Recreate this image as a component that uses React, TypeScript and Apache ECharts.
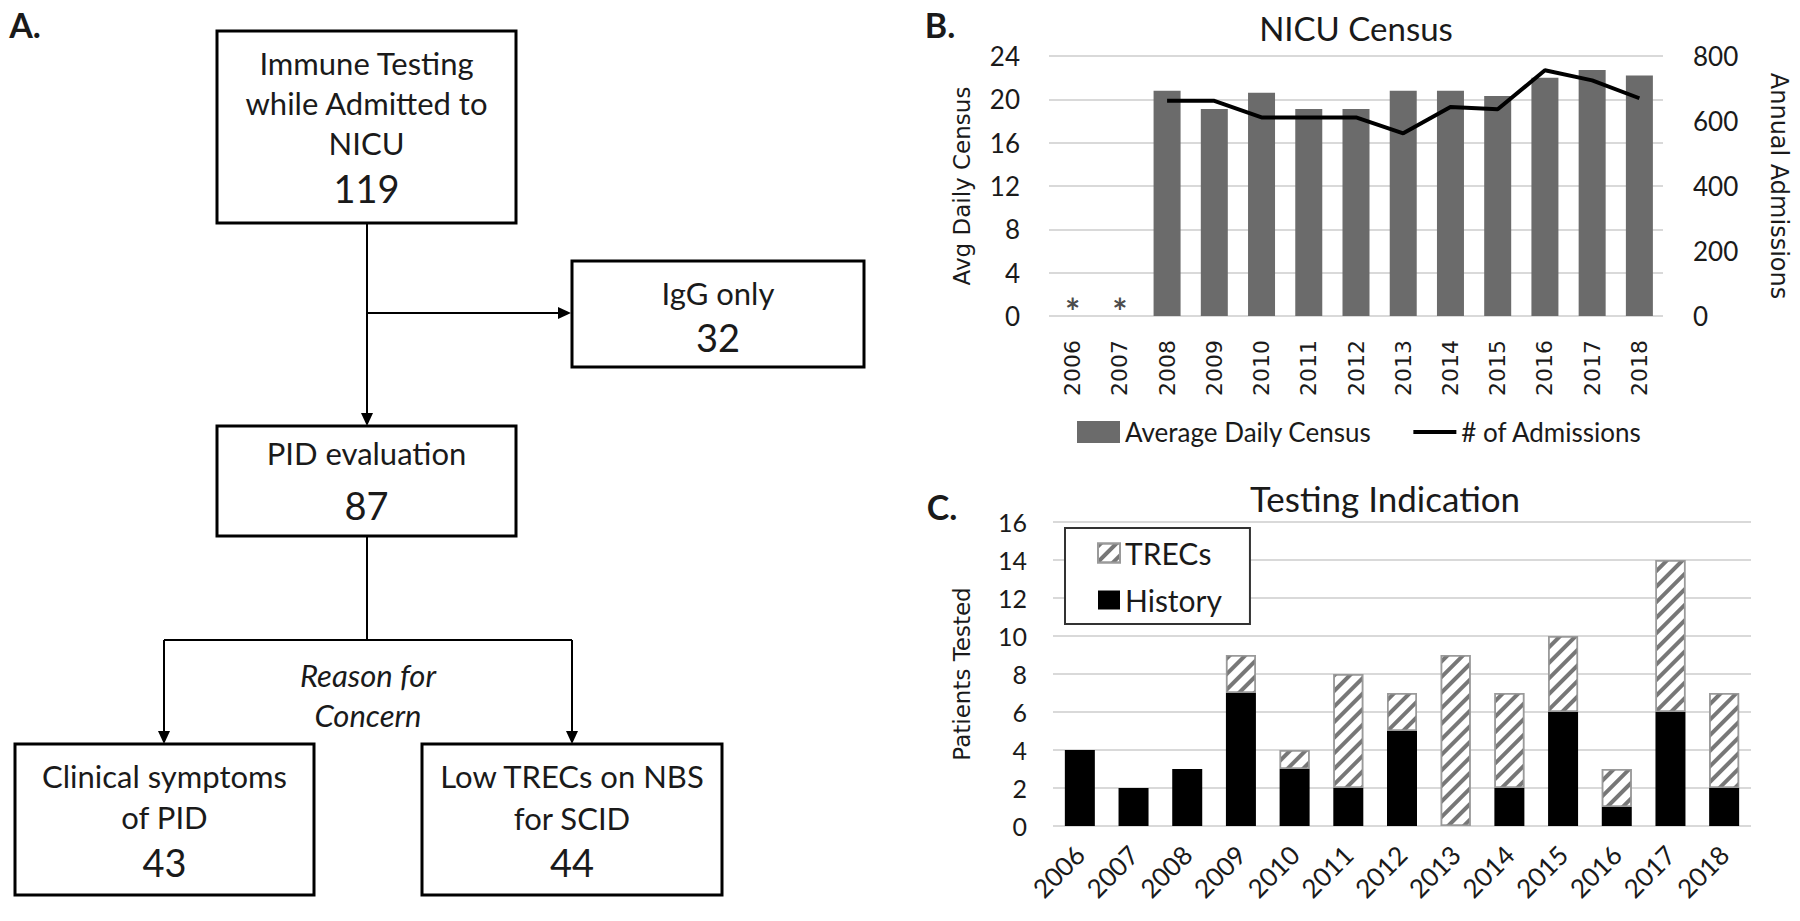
import React, { useEffect, useRef } from "react";
import * as echarts from "echarts";

// ---------------- Data ----------------
const years = ["2006", "2007", "2008", "2009", "2010", "2011", "2012", "2013", "2014", "2015", "2016", "2017", "2018"];

// Panel B – NICU census
const avgDailyCensus = [null, null, 20.8, 19.1, 20.6, 19.1, 19.1, 20.8, 20.8, 20.3, 22.0, 22.7, 22.2];
const annualAdmissions = [null, null, 662, 662, 611, 611, 611, 562, 643, 636, 756, 725, 670];
const censusUnavailable = [0, 0, null, null, null, null, null, null, null, null, null, null, null];
const censusTicks = { min: 0, max: 24, interval: 4 };
const admissionTicks = { min: 0, max: 800, interval: 200 };

// Panel C – Testing indication
const historyCounts = [4, 2, 3, 7, 3, 2, 5, 0, 2, 6, 1, 6, 2];
const trecCounts = [0, 0, 0, 2, 1, 6, 2, 9, 5, 4, 2, 8, 5];
const testedTicks = { min: 0, max: 16, interval: 2 };

// Panel A – flow chart
const flowTop = { lines: ["Immune Testing", "while Admitted to", "NICU"], count: "119" };
const flowIgG = { lines: ["IgG only"], count: "32" };
const flowPID = { lines: ["PID evaluation"], count: "87" };
const flowClinical = { lines: ["Clinical symptoms", "of PID"], count: "43" };
const flowTrecs = { lines: ["Low TRECs on NBS", "for SCID"], count: "44" };
const flowReason = ["Reason for", "Concern"];

// ---------------- Styling helpers ----------------
const FONT = "Lato";
const AXIS_FONT = "DejaVu Sans";
const TXT = "#1a1a1a";

function boxGraphics(
  node: { lines: string[]; count: string },
  x: number,
  y: number,
  w: number,
  h: number,
  lineYs: number[],
  countY: number
) {
  const cx = x + w / 2;
  const els: any[] = [
    {
      type: "rect",
      shape: { x, y, width: w, height: h },
      style: { fill: "#fff", stroke: "#000", lineWidth: 3 },
    },
  ];
  node.lines.forEach((t, i) => {
    els.push({
      type: "text",
      x: cx,
      y: lineYs[i],
      style: { text: t, fill: TXT, fontSize: 31, fontFamily: FONT, align: "center", verticalAlign: "middle" },
    });
  });
  els.push({
    type: "text",
    x: cx,
    y: countY,
    style: { text: node.count, fill: TXT, fontSize: 38, fontFamily: FONT, align: "center", verticalAlign: "middle" },
  });
  return els;
}

function line(x1: number, y1: number, x2: number, y2: number) {
  return { type: "line", shape: { x1, y1, x2, y2 }, style: { stroke: "#000", lineWidth: 2 } };
}
function arrowDown(x: number, y: number) {
  return { type: "polygon", shape: { points: [[x - 6, y - 13], [x + 6, y - 13], [x, y]] }, style: { fill: "#000" } };
}
function arrowRight(x: number, y: number) {
  return { type: "polygon", shape: { points: [[x - 13, y - 6], [x - 13, y + 6], [x, y]] }, style: { fill: "#000" } };
}
function label(text: string, x: number, y: number, size: number, extra: any = {}) {
  return {
    type: "text",
    x,
    y,
    style: { text, fill: TXT, fontSize: size, fontFamily: FONT, align: "center", verticalAlign: "middle", ...extra },
  };
}

export default function App() {
  const ref = useRef<HTMLDivElement>(null);

  useEffect(() => {
    if (!ref.current) return;
    const chart = echarts.init(ref.current, undefined, { renderer: "svg" });

    const flow: any[] = [
      // connectors
      line(367, 223, 367, 424),
      arrowDown(367, 426),
      line(367, 313, 568, 313),
      arrowRight(571, 313),
      line(367, 536, 367, 640),
      line(164, 640, 572, 640),
      line(164, 640, 164, 742),
      arrowDown(164, 744),
      line(572, 640, 572, 742),
      arrowDown(572, 744),
      // boxes
      ...boxGraphics(flowTop, 217, 31, 299, 192, [63, 103, 143], 188),
      ...boxGraphics(flowIgG, 572, 261, 292, 106, [293], 337),
      ...boxGraphics(flowPID, 217, 426, 299, 110, [453], 505),
      ...boxGraphics(flowClinical, 15, 744, 299, 151, [776, 817], 862),
      ...boxGraphics(flowTrecs, 422, 744, 300, 151, [776, 818], 862),
      label(flowReason[0], 368, 675, 31, { fontStyle: "italic" }),
      label(flowReason[1], 368, 715, 31, { fontStyle: "italic" }),
      // panel letters and titles
      label("A.", 25, 24, 34, { fontWeight: "bold" }),
      label("B.", 940, 24, 34, { fontWeight: "bold" }),
      label("C.", 942, 506, 34, { fontWeight: "bold" }),
      label("NICU Census", 1356, 28, 33),
      label("Testing Indication", 1385, 498, 35),
    ];

    const gridLine = { lineStyle: { color: "#d9d9d9", width: 2 } };

    const option: any = {
      animation: false,
      backgroundColor: "#ffffff",
      grid: [
        { left: 1049, top: 56, width: 614, height: 260 },
        { left: 1053, top: 522, width: 698, height: 304 },
      ],
      xAxis: [
        {
          type: "category",
          gridIndex: 0,
          data: years,
          axisLine: { show: false },
          axisTick: { show: false },
          axisLabel: { rotate: 90, margin: 24, fontFamily: AXIS_FONT, fontSize: 22, color: TXT },
        },
        {
          type: "category",
          gridIndex: 1,
          data: years,
          axisLine: { show: false },
          axisTick: { show: false },
          axisLabel: { rotate: 45, margin: 24, fontFamily: FONT, fontSize: 26, color: TXT },
        },
      ],
      yAxis: [
        {
          type: "value",
          gridIndex: 0,
          ...censusTicks,
          name: "Avg Daily Census",
          nameLocation: "middle",
          nameGap: 76,
          nameTextStyle: { fontFamily: AXIS_FONT, fontSize: 23, color: TXT },
          axisLabel: { margin: 29, fontFamily: FONT, fontSize: 26, color: TXT },
          splitLine: gridLine,
        },
        {
          type: "value",
          gridIndex: 0,
          position: "right",
          ...admissionTicks,
          name: "Annual Admissions",
          nameLocation: "middle",
          nameRotate: -90,
          nameGap: 104,
          nameTextStyle: { fontFamily: AXIS_FONT, fontSize: 24, color: TXT },
          axisLabel: { margin: 30, fontFamily: FONT, fontSize: 26, color: TXT },
          splitLine: { show: false },
        },
        {
          type: "value",
          gridIndex: 1,
          ...testedTicks,
          name: "Patients Tested",
          nameLocation: "middle",
          nameGap: 80,
          nameTextStyle: { fontFamily: AXIS_FONT, fontSize: 23, color: TXT },
          axisLabel: { margin: 26, fontFamily: FONT, fontSize: 25, color: TXT },
          splitLine: gridLine,
        },
      ],
      legend: [
        {
          left: 1077,
          top: 419,
          itemWidth: 43,
          itemHeight: 22,
          itemGap: 42,
          padding: 0,
          data: [
            { name: "Average Daily Census", icon: "rect" },
            { name: "# of Admissions", icon: "path://M0,0 L43,0 L43,4 L0,4 Z" },
          ],
          textStyle: { fontFamily: FONT, fontSize: 26, color: TXT },
        },
        {
          left: 1065,
          top: 528,
          orient: "vertical",
          itemWidth: 22,
          itemHeight: 19,
          itemGap: 17,
          padding: [10, 28, 9, 32],
          borderColor: "#333",
          borderWidth: 2,
          backgroundColor: "#fff",
          data: [{ name: "TRECs", icon: "rect" }, { name: "History", icon: "rect" }],
          textStyle: { fontFamily: FONT, fontSize: 30, color: TXT },
        },
      ],
      series: [
        {
          name: "Average Daily Census",
          type: "bar",
          xAxisIndex: 0,
          yAxisIndex: 0,
          data: avgDailyCensus,
          barWidth: 27,
          itemStyle: { color: "#6b6b6b" },
        },
        {
          name: "# of Admissions",
          type: "line",
          xAxisIndex: 0,
          yAxisIndex: 1,
          data: annualAdmissions,
          symbol: "none",
          lineStyle: { color: "#000", width: 4 },
          itemStyle: { color: "#000" },
        },
        {
          name: "unavailable",
          type: "scatter",
          xAxisIndex: 0,
          yAxisIndex: 0,
          data: censusUnavailable,
          symbolSize: 0,
          label: {
            show: true,
            formatter: "*",
            position: "top",
            distance: 0,
            offset: [0, 13],
            fontFamily: FONT,
            fontWeight: "bold",
            fontSize: 36,
            color: TXT,
          },
        },
        {
          name: "History",
          type: "bar",
          stack: "tests",
          xAxisIndex: 1,
          yAxisIndex: 2,
          data: historyCounts,
          barWidth: 30,
          itemStyle: { color: "#000" },
        },
        {
          name: "TRECs",
          type: "bar",
          stack: "tests",
          xAxisIndex: 1,
          yAxisIndex: 2,
          data: trecCounts.map((v) => (v === 0 ? "-" : v)),
          barWidth: 30,
          itemStyle: {
            color: "#ffffff",
            borderColor: "#9a9a9a",
            borderWidth: 1.5,
            decal: {
              symbol: "rect",
              symbolSize: 1,
              color: "#777777",
              dashArrayX: [1, 0],
              dashArrayY: [4, 7],
              rotation: -Math.PI / 4,
            },
          },
        },
      ],
      graphic: { elements: flow },
    };

    chart.setOption(option);
    return () => chart.dispose();
  }, []);

  return <div ref={ref} style={{ position: "absolute", left: 0, top: 0, width: 1800, height: 921 }} />;
}
